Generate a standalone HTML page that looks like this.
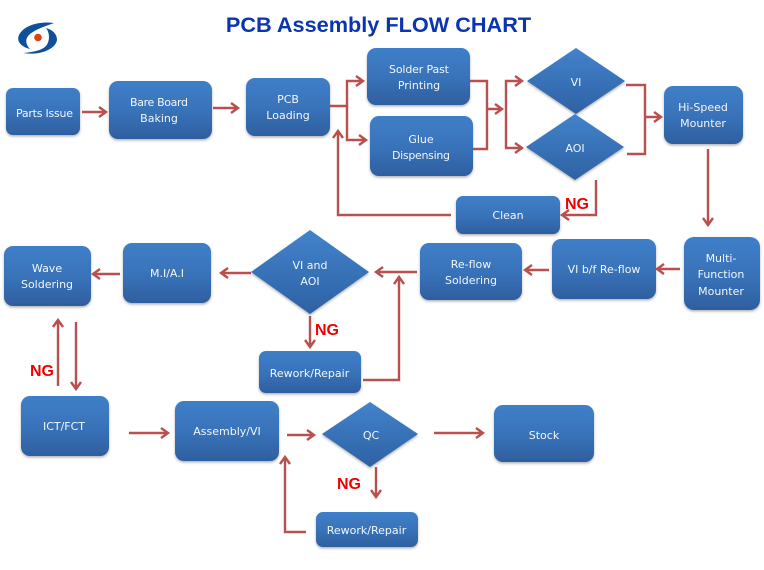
<!DOCTYPE html>
<html><head><meta charset="utf-8">
<style>html,body{margin:0;padding:0;background:#fff}svg{display:block}
.t{font:11px "DejaVu Sans","Liberation Sans",sans-serif;fill:#f2f6fc;text-anchor:middle}
.ng{font:bold 16px "Liberation Sans",sans-serif;fill:#f00000}
.c{fill:none;stroke:#b9504f;stroke-width:2.4}
</style></head><body>
<svg width="764" height="570" viewBox="0 0 764 570" xmlns="http://www.w3.org/2000/svg">
<defs>
<linearGradient id="g" x1="0" y1="0" x2="0" y2="1"><stop offset="0" stop-color="#3e7fc8"/><stop offset="0.5" stop-color="#3973ba"/><stop offset="1" stop-color="#2e5f9f"/></linearGradient>
<linearGradient id="d" x1="0" y1="0" x2="0" y2="1"><stop offset="0" stop-color="#4283cc"/><stop offset="1" stop-color="#2e61a3"/></linearGradient>
<filter id="s" x="-10%" y="-10%" width="120%" height="125%"><feDropShadow dx="0" dy="1.5" stdDeviation="1.2" flood-color="#555" flood-opacity=".45"/></filter>
</defs>
<rect width="764" height="570" fill="#fff"/>
<text x="378.5" y="32" style="font:bold 21.7px 'Liberation Sans',sans-serif;fill:#0a34b0" text-anchor="middle">PCB Assembly FLOW CHART</text>
<!-- logo -->
<path d="M54 23C40 21 24 25 19 35C16 42 22 47 30 49C25 44 25 38 30 34C36 29 46 26 54 23Z" fill="#0f4f9c"/>
<path d="M46 28C53 30 57 34 57 40C56 48 42 56 23 53C35 52 42 50 46 46C50 41 50 33 46 28Z" fill="#0f4f9c"/>
<circle cx="38" cy="37.5" r="3.8" fill="#e0400f"/>
<!-- connectors -->
<g class="c">
<path d="M82 112H106M99 107l7 5-7 5"/>
<path d="M213 108H238M231 103l7 5-7 5"/>
<path d="M330 106H347V81H363M356 76l7 5-7 5"/>
<path d="M347 106V140H366M359 135l7 5-7 5"/>
<path d="M470 81H487V149H473"/>
<path d="M487 109H502M495 104l7 5-7 5"/>
<path d="M522 148H506V81H522M515 76l7 5-7 5"/>
<path d="M515 143l7 5-7 5"/>
<path d="M626 85H645V154H627"/>
<path d="M645 117H661M654 112l7 5-7 5"/>
<path d="M708 149V225M703 218l5 7 5-7"/>
<path d="M596 180V215H562M569 210l-7 5 7 5"/>
<path d="M451 215H338V131M333 138l5-7 5 7"/>
<path d="M680 269H657M664 264l-7 5 7 5"/>
<path d="M549 270H525M532 265l-7 5 7 5"/>
<path d="M417 272H376M383 267l-7 5 7 5"/>
<path d="M363 380H399V277M394 284l5-7 5 7"/>
<path d="M310 316V347M305 340l5 7 5-7"/>
<path d="M251 273H221M228 268l-7 5 7 5"/>
<path d="M120 274H93M100 269l-7 5 7 5"/>
<path d="M58 386V320M53 327l5-7 5 7"/>
<path d="M76 322V389M71 382l5 7 5-7"/>
<path d="M129 433H168M161 428l7 5-7 5"/>
<path d="M287 435H314M307 430l7 5-7 5"/>
<path d="M434 433H483M476 428l7 5-7 5"/>
<path d="M376 467V497M371 490l5 7 5-7"/>
<path d="M306 532H285V457M280 464l5-7 5 7"/>
</g>
<!-- boxes -->
<g fill="url(#g)" filter="url(#s)">
<rect x="6" y="88" width="74" height="47" rx="7"/>
<rect x="109" y="81" width="103" height="58" rx="9"/>
<rect x="246" y="78" width="84" height="58" rx="9"/>
<rect x="367" y="48" width="103" height="57" rx="9"/>
<rect x="370" y="116" width="103" height="60" rx="9"/>
<rect x="664" y="86" width="79" height="58" rx="9"/>
<rect x="456" y="196" width="104" height="38" rx="7"/>
<rect x="684" y="237" width="76" height="73" rx="10"/>
<rect x="552" y="239" width="104" height="60" rx="9"/>
<rect x="420" y="243" width="102" height="57" rx="9"/>
<rect x="123" y="243" width="88" height="60" rx="9"/>
<rect x="4" y="246" width="87" height="60" rx="9"/>
<rect x="259" y="351" width="102" height="42" rx="7"/>
<rect x="21" y="396" width="88" height="60" rx="9"/>
<rect x="175" y="401" width="104" height="60" rx="9"/>
<rect x="494" y="405" width="100" height="57" rx="9"/>
<rect x="316" y="512" width="102" height="35" rx="7"/>
</g>
<g fill="url(#d)" filter="url(#s)">
<polygon points="527,81 576,48 625,81 576,114"/>
<polygon points="526,147 575,114 624,147 575,180"/>
<polygon points="251,272 310,230 369,272 310,314"/>
<polygon points="322,434 370,402 418,434 370,467"/>
</g>
<!-- labels -->
<g class="t">
<text x="44.5" y="117" textLength="57">Parts Issue</text>
<text x="159" y="106" textLength="58">Bare Board</text><text x="159" y="122">Baking</text>
<text x="288" y="103">PCB</text><text x="288" y="119">Loading</text>
<text x="419" y="73" textLength="60">Solder Past</text><text x="419" y="89">Printing</text>
<text x="421" y="143">Glue</text><text x="421" y="159" textLength="58">Dispensing</text>
<text x="576" y="86">VI</text>
<text x="575" y="152">AOI</text>
<text x="703" y="111">Hi-Speed</text><text x="703" y="127">Mounter</text>
<text x="508" y="219">Clean</text>
<text x="721" y="262">Multi-</text><text x="721" y="278">Function</text><text x="721" y="295">Mounter</text>
<text x="604" y="273">VI b/f Re-flow</text>
<text x="471" y="268">Re-flow</text><text x="471" y="284">Soldering</text>
<text x="310" y="269">VI and</text><text x="310" y="285">AOI</text>
<text x="167" y="277">M.I/A.I</text>
<text x="47" y="272">Wave</text><text x="47" y="288">Soldering</text>
<text x="309.5" y="377">Rework/Repair</text>
<text x="64" y="430">ICT/FCT</text>
<text x="227" y="435">Assembly/VI</text>
<text x="371" y="439">QC</text>
<text x="544" y="439">Stock</text>
<text x="366.5" y="534">Rework/Repair</text>
</g>
<text class="ng" x="565" y="209">NG</text>
<text class="ng" x="315" y="335">NG</text>
<text class="ng" x="30" y="376">NG</text>
<text class="ng" x="337" y="489">NG</text>
</svg>
</body></html>
